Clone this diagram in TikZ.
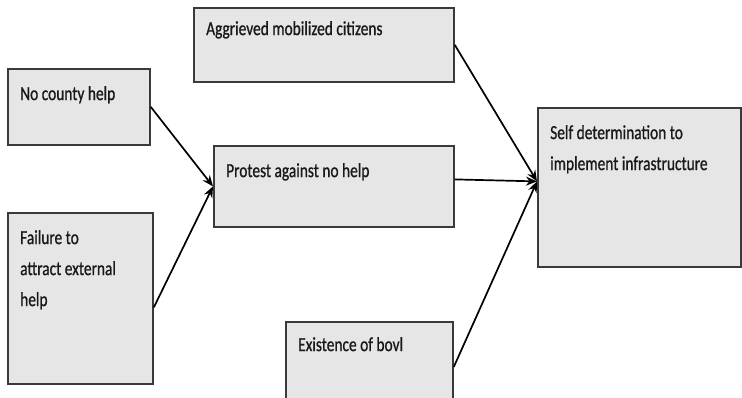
\documentclass[tikz,border=0pt]{standalone}
\usepackage{fontspec}
\newfontfamily\boxfont[FakeStretch=0.77, FakeBold=0.8]{Carlito}
\definecolor{boxfill}{HTML}{E6E6E6}
\definecolor{boxline}{HTML}{3A3A3A}
\usetikzlibrary{arrows.meta,positioning}

\begin{document}
\begin{tikzpicture}[
    x=1pt, y=-1pt,
    >={Stealth[length=11pt, width=9pt]},
    font=\boxfont\fontsize{20}{31}\selectfont,
    box/.style={draw=boxline, fill=boxfill, line width=1.8pt,
                anchor=north west, inner sep=0pt},
    txt/.style={anchor=north west, inner sep=0pt, align=left,
                xshift=13pt, yshift=-18pt, text=black!90},
    e/.style={->, line width=1.7pt, draw=black},
  ]
    \clip (0,0) rectangle (742,397);
    % --- causes -----------------------------------------------------------
    \node[box, minimum width=142pt, minimum height=76pt,
          label={[txt]north west:No county help}] (noh) at (7,68) {};
    \node[box, minimum width=145pt, minimum height=171pt,
          label={[txt]north west:Failure to\\attract external\\help}]
          (fail) at (7,212) {};
    % --- middle -----------------------------------------------------------
    \node[box, minimum width=260pt, minimum height=74pt,
          label={[txt, yshift=4pt]north west:Aggrieved mobilized citizens}]
          (agg) at (193,7) {};
    \node[box, minimum width=240pt, minimum height=81pt,
          label={[txt]north west:Protest against no help}] (prot) at (213,145) {};
    \node[box, minimum width=167pt, minimum height=90pt,
          label={[txt, yshift=2pt]north west:Existence of bovl}] (exis) at (285,321) {};
    % --- outcome ----------------------------------------------------------
    \node[box, minimum width=203pt, minimum height=159pt,
          label={[txt]north west:Self determination to\\implement infrastructure}]
          (self) at (537,107) {};
    \coordinate (hub) at ([yshift=6pt]self.west);
    % --- edges ------------------------------------------------------------
    \draw[e] (noh.east) -- (prot.west);
    \draw[e] ([yshift=-9pt]fail.east) -- (prot.west);
    \draw[e] (agg.east) -- (hub);
    \draw[e] ([yshift=7pt]prot.east) -- (hub);
    \draw[e] (exis.east) -- (hub);
  \end{tikzpicture}
\end{document}
